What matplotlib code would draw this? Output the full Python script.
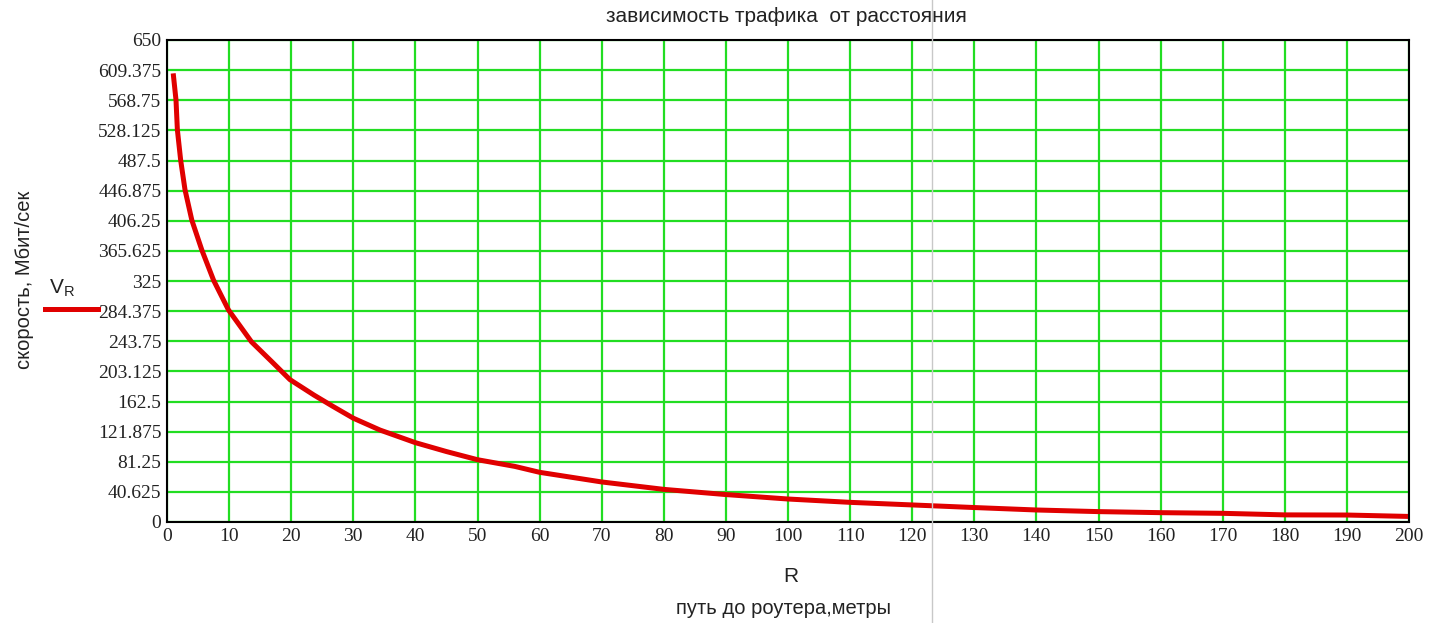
import matplotlib
matplotlib.use('Agg')
import matplotlib.pyplot as plt
from matplotlib.lines import Line2D
import numpy as np

# значения
R = [1, 1.45, 1.67, 2.2, 2.9, 4.0, 5.6, 7.5, 9.9, 13.6, 16.9, 19.8, 23.7, 26.7, 30, 34.3,
     40, 45, 50, 56, 60, 70, 80, 90, 100, 110, 120, 130, 140, 150, 160, 170, 180, 190, 200]
V_R = [605, 569, 529, 488, 448, 407, 367, 326, 286, 243, 216, 192, 171, 156, 140, 124,
       107, 95, 84, 75, 67, 54, 44, 37, 31, 26.5, 23, 19.5, 16.2, 14, 12.6, 11.7, 9.6, 9.4, 7.5]

x_ticks = list(range(0, 201, 10))
y_ticks = [0, 40.625, 81.25, 121.875, 162.5, 203.125, 243.75, 284.375, 325, 365.625,
           406.25, 446.875, 487.5, 528.125, 568.75, 609.375, 650]
y_labels = ['0', '40.625', '81.25', '121.875', '162.5', '203.125', '243.75', '284.375', '325',
            '365.625', '406.25', '446.875', '487.5', '528.125', '568.75', '609.375', '650']

fig = plt.figure(figsize=(14.34, 6.23), dpi=100)
ax = fig.add_axes([167/1434, 101/623, 1242/1434, 482/623])

ax.plot(R, V_R, color='#e00000', lw=3.6, solid_capstyle='butt')

ax.set_xlim(0, 200)
ax.set_ylim(0, 650)
ax.set_xticks(x_ticks)
ax.set_yticks(y_ticks)
ax.set_yticklabels(y_labels)
ax.grid(True, color='#22dd22', lw=1.6)
ax.set_axisbelow(True)
ax.tick_params(length=0, pad=4, labelsize=14)
for lab in ax.get_xticklabels() + ax.get_yticklabels():
    lab.set_fontfamily('Liberation Serif')
    lab.set_color('#222222')
for s in ax.spines.values():
    s.set_color('black')
    s.set_linewidth(1.5)

sans = 'Liberation Sans'
fig.text(786/1434, 1 - 17/623, 'зависимость трафика  от расстояния', ha='center', va='center',
         fontsize=15, family=sans, color='#222222')
fig.text(791/1434, 1 - 576/623, 'R', ha='center', va='center', fontsize=15, family=sans, color='#222222')
fig.text(784/1434, 1 - 608/623, 'путь до роутера,метры', ha='center', va='center',
         fontsize=14.5, family=sans, color='#222222')
fig.text(25/1434, 1 - 280/623, 'скорость, Мбит/сек', ha='center', va='center', rotation=90,
         fontsize=14.5, family=sans, color='#222222')
fig.text(62/1434, 1 - 288/623, r'V$_\mathregular{R}$', ha='center', va='center',
         fontsize=15, family=sans, color='#222222')
fig.add_artist(Line2D([45/1434, 98/1434], [1 - 309/623, 1 - 309/623], color='#e00000', lw=3.6,
                      transform=fig.transFigure))
# серая вертикальная линия (граница области)
fig.add_artist(Line2D([932/1434, 932/1434], [0, 1], color='#c8c8c8', lw=1, transform=fig.transFigure))

fig.savefig('out.png', dpi=100)
